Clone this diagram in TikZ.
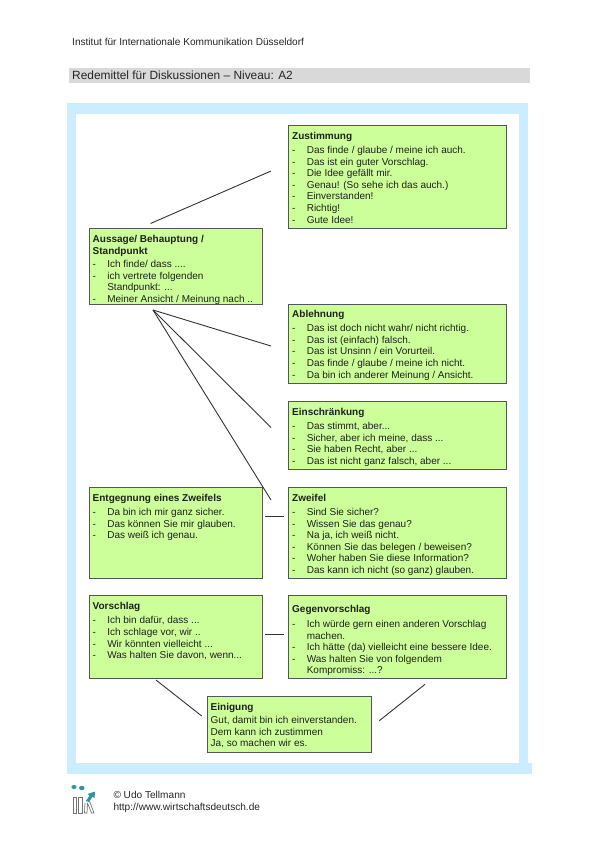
\documentclass[tikz,border=0pt]{standalone}
\usepackage{fontspec}
\setmainfont{Liberation Sans}
\definecolor{boxgreen}{HTML}{CCFF99}
\definecolor{framebl}{HTML}{CCECFF}
\definecolor{bandgr}{HTML}{D9D9D9}
\definecolor{boxline}{HTML}{555555}
\definecolor{teal2}{HTML}{2F93A0}
\newcommand{\itm}[1]{\rlap{-}\hspace{14.6pt}#1}
\newcommand{\cont}[1]{\hspace{14.6pt}#1}
\newcommand{\ttl}[1]{\textbf{#1}}
\tikzset{
  x=1pt,y=-1pt,
  bx/.style={draw=boxline,line width=1pt,fill=boxgreen},
  tx/.style={anchor=north west,inner sep=0pt,align=left,text=black!88,font=\fontsize{10}{11.6}\selectfont},
  conn/.style={draw=black!80,line width=0.9pt},
  plain/.style={anchor=base west,inner sep=0pt,text=black!85},
}
\begin{document}
\begin{tikzpicture}
\useasboundingbox (0,0) rectangle (599,848);
\fill[white] (0,0) rectangle (599,848);
% header
\node[plain,font=\fontsize{10.1}{12}\selectfont] (inst) at (72,45.5) {Institut für Internationale Kommunikation Düsseldorf};
\fill[bandgr] (69,68) rectangle (530,83);
\node[plain,font=\fontsize{11.9}{14}\selectfont] (head) at (72,79.5) {Redemittel für Diskussionen – Niveau: A2};
% frame
\fill[framebl] (67,103) rectangle (528,763);
\fill[framebl] (67,763) rectangle (532,774);
\fill[white] (76,114) rectangle (519,763);
% boxes
\draw[bx] (288.5,126) rectangle (506.5,228);
\draw[bx] (89,228) rectangle (262,304);
\draw[bx] (288.5,304) rectangle (506.5,383);
\draw[bx] (288.5,401) rectangle (506.5,469);
\draw[bx] (89,487) rectangle (262,578);
\draw[bx] (288.5,487) rectangle (506.5,578);
\draw[bx] (89,595) rectangle (262,678);
\draw[bx] (288.5,595) rectangle (506.5,678);
\draw[bx] (207,696) rectangle (371,752);
% texts
\node[tx] (zust) at (292,132) {\ttl{Zustimmung}\\[2.4pt]
\itm{Das finde / glaube / meine ich auch.}\\
\itm{Das ist ein guter Vorschlag.}\\
\itm{Die Idee gefällt mir.}\\
\itm{Genau! (So sehe ich das auch.)}\\
\itm{Einverstanden!}\\
\itm{Richtig!}\\
\itm{Gute Idee!}};
\node[tx] (auss) at (92.5,235.3) {\ttl{Aussage/ Behauptung /}\\
\ttl{Standpunkt}\\[1.5pt]
\itm{Ich finde/ dass ....}\\
\itm{ich vertrete folgenden}\\
\cont{Standpunkt: ...}\\
\itm{Meiner Ansicht / Meinung nach ..}};
\node[tx] (abl) at (292,310.3) {\ttl{Ablehnung}\\[2.4pt]
\itm{Das ist doch nicht wahr/ nicht richtig.}\\
\itm{Das ist (einfach) falsch.}\\
\itm{Das ist Unsinn / ein Vorurteil.}\\
\itm{Das finde / glaube / meine ich nicht.}\\
\itm{Da bin ich anderer Meinung / Ansicht.}};
\node[tx] (eins) at (292,408) {\ttl{Einschränkung}\\[2.4pt]
\itm{Das stimmt, aber...}\\
\itm{Sicher, aber ich meine, dass ...}\\
\itm{Sie haben Recht, aber ...}\\
\itm{Das ist nicht ganz falsch, aber ...}};
\node[tx] (entg) at (92.5,494) {\ttl{Entgegnung eines Zweifels}\\[2.4pt]
\itm{Da bin ich mir ganz sicher.}\\
\itm{Das können Sie mir glauben.}\\
\itm{Das weiß ich genau.}};
\node[tx] (zwei) at (292,494) {\ttl{Zweifel}\\[2.4pt]
\itm{Sind Sie sicher?}\\
\itm{Wissen Sie das genau?}\\
\itm{Na ja, ich weiß nicht.}\\
\itm{Können Sie das belegen / beweisen?}\\
\itm{Woher haben Sie diese Information?}\\
\itm{Das kann ich nicht (so ganz) glauben.}};
\node[tx] (vors) at (92.5,602.5) {\ttl{Vorschlag}\\[2.4pt]
\itm{Ich bin dafür, dass ...}\\
\itm{Ich schlage vor, wir ..}\\
\itm{Wir könnten vielleicht ...}\\
\itm{Was halten Sie davon, wenn...}};
\node[tx] (gegen) at (292,604.8) {\ttl{Gegenvorschlag}\\[3.6pt]
\itm{Ich würde gern einen anderen Vorschlag}\\
\cont{machen.}\\
\itm{Ich hätte (da) vielleicht eine bessere Idee.}\\
\itm{Was halten Sie von folgendem}\\
\cont{Kompromiss: ...?}};
\node[tx] (eini) at (210.5,703.5) {\ttl{Einigung}\\[1pt]
Gut, damit bin ich einverstanden.\\
Dem kann ich zustimmen\\
Ja, so machen wir es.};
% connector ends
\coordinate (c1a) at (150.5,223.5);
\coordinate (c1b) at (271,171);
\coordinate (hub) at (153,310);
\coordinate (c2) at (271,346);
\coordinate (c3) at (271,427.5);
\coordinate (c4) at (271,500);
\coordinate (c5a) at (265,516);
\coordinate (c5b) at (284,516);
\coordinate (c6a) at (265,634.3);
\coordinate (c6b) at (284,634.3);
\coordinate (c7a) at (156,680);
\coordinate (c7b) at (201.7,716);
\coordinate (c8a) at (425,684.3);
\coordinate (c8b) at (379.3,720.7);
\draw[conn] (c1a) -- (c1b);
\draw[conn] (hub) -- (c2);
\draw[conn] (hub) -- (c3);
\draw[conn] (hub) -- (c4);
\draw[conn] (c5a) -- (c5b);
\draw[conn] (c6a) -- (c6b);
\draw[conn] (c7a) -- (c7b);
\draw[conn] (c8a) -- (c8b);
% footer
\node[plain,font=\fontsize{10.1}{12}\selectfont] (copy) at (113.3,798.7) {© Udo Tellmann};
\node[plain,font=\fontsize{10.1}{12}\selectfont] (url) at (113.3,810.3) {http://www.wirtschaftsdeutsch.de};
% logo
\fill[teal2] (74,787) ellipse (2.6 and 2);
\fill[teal2] (81.8,788) ellipse (2.8 and 2.2);
\draw[black!55,line width=0.7pt] (73.3,797) rectangle (76.7,813);
\draw[black!55,line width=0.7pt] (78.8,797) rectangle (82.2,813);
\draw[black!55,line width=0.7pt] (85,803) -- (84.5,813) -- (87,813) -- (87.5,803) (87.5,803) -- (91.5,813) -- (94,813) -- (89.5,801);
\fill[teal2] (86,801) -- (89.5,795.5) -- (87.5,794) -- (95,791.5) -- (94.5,798) -- (92.5,796.8) -- (89,802) -- cycle;
\end{tikzpicture}
\end{document}
